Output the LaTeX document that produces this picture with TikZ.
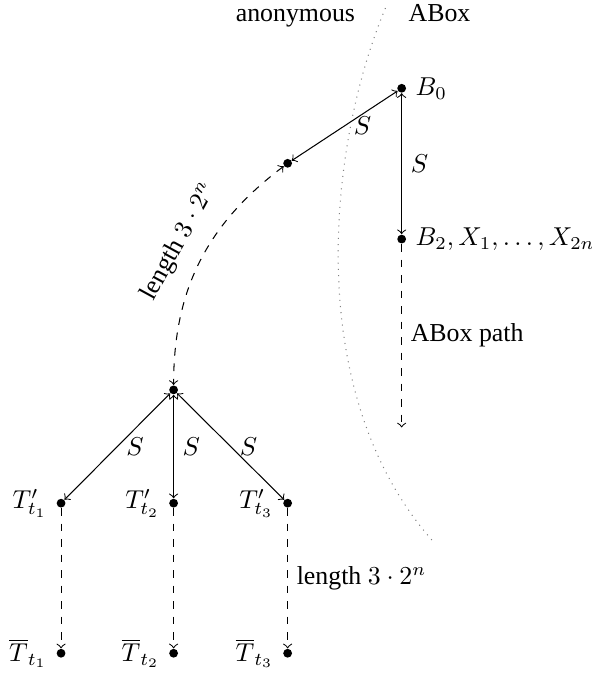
\documentclass[tikz,border=0pt]{standalone}
\usepackage{fontspec}
\setmainfont{Liberation Serif}
\begin{document}
\begin{tikzpicture}[
 dot/.style={circle,fill,inner sep=0pt,minimum size=3.4pt},
 sarr/.style={<->},
 darr/.style={->,dashed},
 dboth/.style={<->,dashed},
 border/.style={dotted,gray}
]
\useasboundingbox (0,0) rectangle (8.04,9.23);
\draw[border] (5.24,9.12) .. controls (4.48,7.32) and (4.08,3.93) .. (5.87,1.89);
\node[anchor=base east] (anon) at (4.95,8.94) {anonymous};
\node[anchor=base west] (abox) at (5.43,8.94) {ABox};

\node[dot,label=right:{$B_0$}] (b0) at (5.46,8.03) {};
\node[dot] (a1) at (3.91,7.01) {};
\node[dot,label=right:{$B_2, X_1, \ldots, X_{2n}$}] (b2) at (5.46,5.98) {};
\coordinate (bend) at (5.46,3.42);
\draw[sarr] (b0) -- node[right] {$S$} (a1);
\draw[sarr] (b0) -- node[right] {$S$} (b2);
\draw[darr] (b2) -- node[right] {ABox path} (bend);

\node[dot] (root) at (2.36,3.93) {};
\draw[dboth] (a1) to[out=217,in=90] node[sloped,above=0.9mm,pos=0.47] {length $3\cdot 2^n$} (root);

\node[dot,label=left:{$T'_{t_1}$}] (tp1) at (0.83,2.39) {};
\node[dot,label=left:{$T'_{t_2}$}] (tp2) at (2.36,2.39) {};
\node[dot,label=left:{$T'_{t_3}$}] (tp3) at (3.91,2.39) {};
\node[dot,label=left:{$\overline{T}_{t_1}$}] (tb1) at (0.83,0.35) {};
\node[dot,label=left:{$\overline{T}_{t_2}$}] (tb2) at (2.36,0.35) {};
\node[dot,label=left:{$\overline{T}_{t_3}$}] (tb3) at (3.91,0.35) {};
\draw[sarr] (root) -- node[right] {$S$} (tp1);
\draw[sarr] (root) -- node[right] {$S$} (tp2);
\draw[sarr] (root) -- node[right] {$S$} (tp3);
\draw[darr] (tp1) -- (tb1);
\draw[darr] (tp2) -- (tb2);
\draw[darr] (tp3) -- node[right] {length $3\cdot 2^n$} (tb3);
\end{tikzpicture}
\end{document}
